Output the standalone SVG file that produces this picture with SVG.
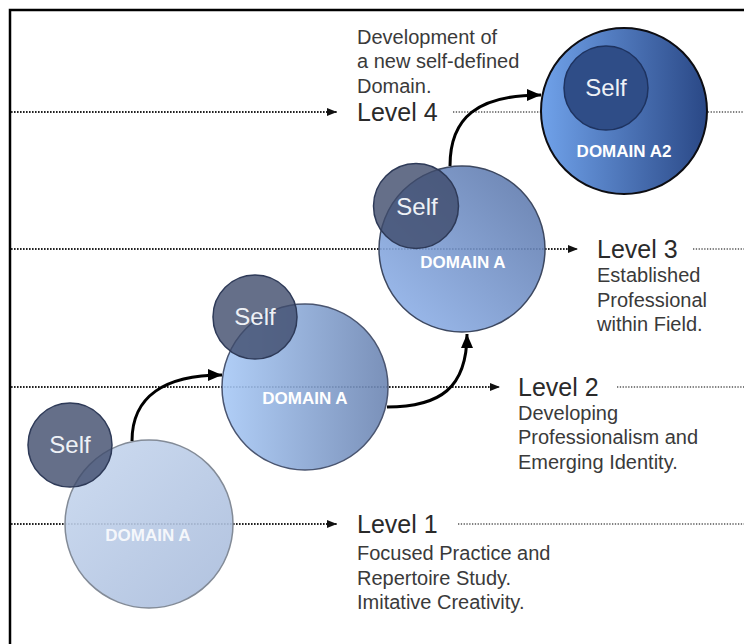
<svg xmlns="http://www.w3.org/2000/svg" width="744" height="644" viewBox="0 0 744 644">
<defs>
  <linearGradient id="g1" x1="0" y1="0" x2="1" y2="1">
    <stop offset="0" stop-color="#c8d8ef"/>
    <stop offset="1" stop-color="#a8bbdb"/>
  </linearGradient>
  <linearGradient id="g2" x1="0" y1="0" x2="1" y2="0">
    <stop offset="0" stop-color="#a8c9f6"/>
    <stop offset="1" stop-color="#6c85b2"/>
  </linearGradient>
  <linearGradient id="g3" x1="0" y1="1" x2="1" y2="0">
    <stop offset="0" stop-color="#95b8f0"/>
    <stop offset="1" stop-color="#5a74a6"/>
  </linearGradient>
  <linearGradient id="g4" x1="0" y1="0" x2="1" y2="0">
    <stop offset="0" stop-color="#70a2ea"/>
    <stop offset="1" stop-color="#2a4886"/>
  </linearGradient>
  <marker id="dotArrow" markerUnits="userSpaceOnUse" markerWidth="10" markerHeight="9" refX="10" refY="4.5" orient="auto">
    <path d="M0,0.5 L10,4.5 L0,8.5 z" fill="#111"/>
  </marker>
  <marker id="curveArrow" markerUnits="userSpaceOnUse" markerWidth="14" markerHeight="12" refX="14" refY="6" orient="auto">
    <path d="M0,0 L14,6 L0,12 z" fill="#000"/>
  </marker>
</defs>
<style>
  .lead { fill: none; stroke: #222; stroke-width: 2; stroke-dasharray: 1.6 1.4; }
  .tail { fill: none; stroke: #555; stroke-width: 1.4; stroke-dasharray: 1.3 1.5; }
  .curve { fill: none; stroke: #000; stroke-width: 3; }
  .self { fill: #3e4b6c; fill-opacity: 0.8; stroke: #2e3a58; stroke-width: 1.5; }
  .selfTxt { font-family: "Liberation Sans", Arial, sans-serif; font-size: 24px; fill: #eef1f6; text-anchor: middle; }
  .dom { font-family: "Liberation Sans", Arial, sans-serif; font-size: 17px; font-weight: bold; fill: #ffffff; text-anchor: middle; }
  .lvl { font-family: "Liberation Sans", Arial, sans-serif; font-size: 25px; fill: #2a2a2a; }
  .desc { font-family: "Liberation Sans", Arial, sans-serif; font-size: 20px; fill: #3a3a3a; }
</style>
<rect width="744" height="644" fill="#ffffff"/>
<path d="M10,644 V10 H744" fill="none" stroke="#000" stroke-width="2.5"/>

<g id="level-lines">
  <line class="lead" x1="11" y1="112" x2="337" y2="112" marker-end="url(#dotArrow)"/>
  <line class="tail" x1="453" y1="112" x2="744" y2="112"/>
  <line class="lead" x1="11" y1="249" x2="578" y2="249" marker-end="url(#dotArrow)"/>
  <line class="tail" x1="693" y1="249" x2="744" y2="249"/>
  <line class="lead" x1="11" y1="387" x2="500" y2="387" marker-end="url(#dotArrow)"/>
  <line class="tail" x1="617" y1="387" x2="744" y2="387"/>
  <line class="lead" x1="11" y1="524" x2="337" y2="524" marker-end="url(#dotArrow)"/>
  <line class="tail" x1="458" y1="524" x2="744" y2="524"/>
</g>

<g id="node-level1">
  <circle cx="149" cy="524" r="84" fill="url(#g1)" fill-opacity="0.9" stroke="#838b97" stroke-width="1.5"/>
  <circle class="self" cx="70" cy="445" r="42"/>
  <text class="selfTxt" x="70" y="453">Self</text>
  <text class="dom" x="148" y="541" fill-opacity="0.85">DOMAIN A</text>
</g>

<g id="node-level2">
  <circle cx="305" cy="387" r="83" fill="url(#g2)" fill-opacity="0.9" stroke="#4a5570" stroke-width="1.5"/>
  <circle class="self" cx="255" cy="317" r="42"/>
  <text class="selfTxt" x="255" y="325">Self</text>
  <text class="dom" x="305" y="404">DOMAIN A</text>
</g>

<g id="node-level3">
  <circle cx="462" cy="249" r="83" fill="url(#g3)" fill-opacity="0.9" stroke="#3d4860" stroke-width="1.5"/>
  <circle class="self" cx="416" cy="206" r="42.5"/>
  <text class="selfTxt" x="417" y="215">Self</text>
  <text class="dom" x="463" y="268">DOMAIN A</text>
</g>

<g id="node-level4">
  <circle cx="624" cy="111" r="83" fill="url(#g4)" stroke="#0d0d12" stroke-width="2"/>
  <circle cx="606" cy="88" r="42" fill="#2f4d87" stroke="#1e3360" stroke-width="1.5"/>
  <text class="selfTxt" x="606" y="96">Self</text>
  <text class="dom" x="624" y="157">DOMAIN A2</text>
</g>

<g id="connectors">
  <path class="curve" d="M132,441 C132,396 165,375 222,375" marker-end="url(#curveArrow)"/>
  <path class="curve" d="M387,407 C440,407 467,388 467,334" marker-end="url(#curveArrow)"/>
  <path class="curve" d="M450,166 C450,117 478,95 541,95" marker-end="url(#curveArrow)"/>
</g>

<g id="labels">
  <text class="desc" x="357" y="44">Development of</text>
  <text class="desc" x="357" y="68">a new self-defined</text>
  <text class="desc" x="357" y="93">Domain.</text>
  <text class="lvl" x="357" y="121">Level 4</text>

  <text class="lvl" x="597" y="258">Level 3</text>
  <text class="desc" x="597" y="282">Established</text>
  <text class="desc" x="597" y="307">Professional</text>
  <text class="desc" x="597" y="331">within Field.</text>

  <text class="lvl" x="518" y="396">Level 2</text>
  <text class="desc" x="518" y="420">Developing</text>
  <text class="desc" x="518" y="444">Professionalism and</text>
  <text class="desc" x="518" y="469">Emerging Identity.</text>

  <text class="lvl" x="357" y="533">Level 1</text>
  <text class="desc" x="357" y="560">Focused Practice and</text>
  <text class="desc" x="357" y="585">Repertoire Study.</text>
  <text class="desc" x="357" y="609">Imitative Creativity.</text>
</g>
</svg>
